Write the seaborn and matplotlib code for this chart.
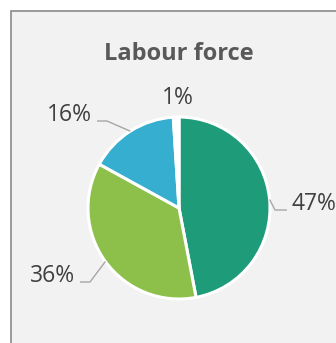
import numpy as np
import seaborn as sns
import matplotlib.pyplot as plt
from matplotlib.patches import Rectangle

# data
categories = ['A', 'B', 'C', 'D']
shares = [47, 36, 16, 1]
labels = ['47%', '36%', '16%', '1%']
colors = ['#1e9c7a', '#8cc04a', '#36aed0', '#ffffff']
title = 'Labour force'

sns.set_theme(style='white')
plt.rcParams['font.family'] = ['Open Sans', 'DejaVu Sans']

W, H = 336, 343
fig = plt.figure(figsize=(W / 100, H / 100), dpi=100)
fig.patch.set_facecolor('white')

# axes in pixel coordinates (y up)
ax = fig.add_axes([0, 0, 1, 1])
ax.axis('off')

# chart frame
ax.add_patch(Rectangle((10.5, -10), W, H - 10.5 + 10, facecolor='#f2f2f2',
                       edgecolor='#8a8a8a', linewidth=1.2, zorder=0))

cx, cy, r = 179, H - 208, 91
wedges, _ = ax.pie(shares, colors=colors, startangle=90, counterclock=False,
                   center=(cx, cy), radius=r,
                   wedgeprops=dict(edgecolor='white', linewidth=2.2, zorder=1))
ax.set_xlim(0, W)
ax.set_ylim(0, H)
ax.set_aspect('equal')

# label layout: (elbow x, elbow y, text x, text y, ha, leader)
layout = [
    (275, 210, 291, 210, 'left', True),
    (90, 282, 75, 282, 'right', True),
    (107, 121, 92, 121, 'right', True),
    (None, None, 178, 104, 'center', False),
]
for w, lab, (ex, ey, tx, ty, ha, lead) in zip(wedges, labels, layout):
    mid = np.deg2rad((w.theta1 + w.theta2) / 2)
    px, py = cx + r * np.cos(mid), cy + r * np.sin(mid)
    if lead:
        end = tx - 4 if ha == 'left' else tx + 5
        ax.plot([px, ex, end], [py, H - ey, H - ey], color='#a6a6a6', lw=1.0,
                solid_capstyle='butt', zorder=2)
    ax.text(tx, H - ty, lab, ha=ha, va='baseline', fontsize=16.5,
            color='#404040', zorder=3)

ax.text(179, H - 60, title, ha='center', va='baseline', fontsize=17,
        fontweight='bold', color='#595959', zorder=3)

fig.savefig('out.png', dpi=100, facecolor='white')
